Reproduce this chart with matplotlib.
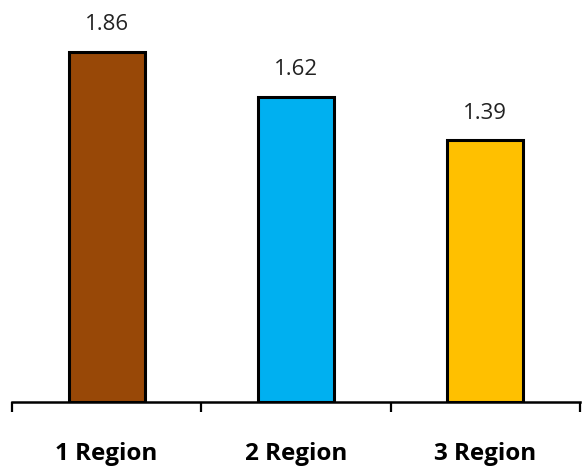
import matplotlib.pyplot as plt
import numpy as np

categories = ['1 Region', '2 Region', '3 Region']
values = [1.86, 1.62, 1.39]
colors = ['#984807', '#00B0F0', '#FFC000']

plt.rcParams['font.family'] = ['Open Sans', 'DejaVu Sans']

fig = plt.figure(figsize=(5.84, 4.66), dpi=100)
ax = fig.add_axes([12 / 584, 1 - 402 / 466, 568 / 584, 402 / 466])

x = np.arange(len(categories))
bars = ax.bar(x, values, width=0.4, color=colors, edgecolor='black', linewidth=2.2, zorder=3)

for rect, v in zip(bars, values):
    ax.annotate('{:.2f}'.format(v), (rect.get_x() + rect.get_width() / 2, v),
                xytext=(0, 12), textcoords='offset points', ha='center', va='bottom',
                fontsize=16, color='#222222')

ax.set_xlim(-0.5, 2.5)
ax.set_ylim(0, 402 / (350 / 1.86))

# category separators as ticks, labels in between
ax.set_xticks([-0.5, 0.5, 1.5, 2.5])
ax.set_xticklabels([])
ax.set_xticks(x, minor=True)
ax.set_xticklabels(categories, minor=True, fontsize=17.5, fontweight='bold')
ax.tick_params(axis='x', which='major', direction='out', length=7.5, width=1.6, color='black')
ax.tick_params(axis='x', which='minor', length=0, pad=29)

ax.set_yticks([])
for s in ['top', 'right', 'left']:
    ax.spines[s].set_visible(False)
ax.spines['bottom'].set_linewidth(1.8)

fig.savefig('out.png', dpi=100)
